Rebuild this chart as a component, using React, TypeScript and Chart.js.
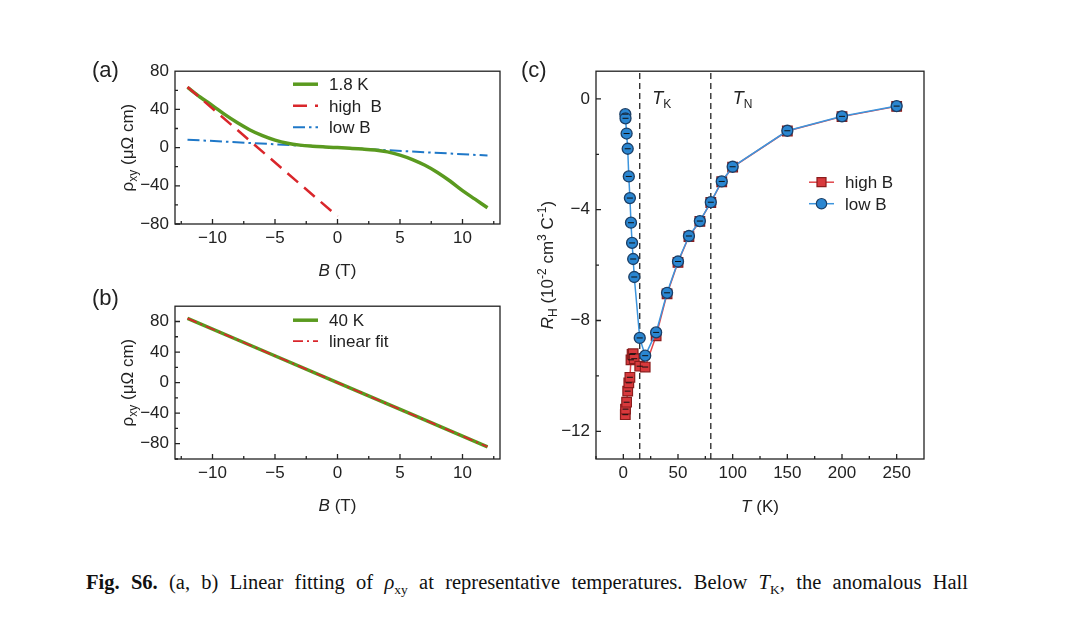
import { useEffect, useRef } from "react";
import { Chart, registerables } from "chart.js";

Chart.register(...registerables);

const FONT = '"Liberation Sans", Arial, Helvetica, sans-serif';
const INK = "#222222";
const FS = 17;

// (a) rho_xy at 1.8 K with the two linear fits
const fieldA = [-12, -11, -10, -9, -8, -7, -6, -5, -4, -3, -2, -1, 0, 1, 2, 3, 4, 5, 6, 7, 8, 9, 10, 11, 12];
const rho18K = [63, 53, 44, 34.5, 26, 18.5, 12.5, 7.8, 4.5, 2.6, 1.5, 0.7, 0, -0.7, -1.5, -2.6, -4.5, -7.8, -12.5, -18.5, -26, -35, -45, -54, -63];
const highFitB = [-12, 0];
const highFitRho = [63.5, -72];
const lowFitB = [-12, 12];
const lowFitRho = [8.3, -8.3];

// (b) rho_xy at 40 K
const fieldB = [-12, -6, 0, 6, 12];
const rho40K = [84, 42, 0, -42, -84];
const linFitB = [-12, 12];
const linFitRho = [84, -84];

// (c) Hall coefficient vs temperature
const tempK = [1.8, 2, 3, 4, 5, 6, 7, 8, 9, 10, 15, 20, 30, 40, 50, 60, 70, 80, 90, 100, 150, 200, 250];
const rhHighB = [-11.4, -11.2, -10.95, -10.55, -10.25, -10.05, -9.42, -9.22, -9.2, -9.38, -9.65, -9.68, -8.55, -7.04, -5.9, -4.97, -4.42, -3.74, -2.99, -2.46, -1.16, -0.64, -0.27];
const rhLowB = [-0.55, -0.7, -1.25, -1.8, -2.8, -3.58, -4.47, -5.2, -5.78, -6.43, -8.63, -9.27, -8.43, -7.0, -5.87, -4.95, -4.41, -3.73, -2.98, -2.45, -1.15, -0.63, -0.26];
const T_KONDO = 15;
const T_NEEL = 80;

// tick labels
const ticksField = [-10, -5, 0, 5, 10];
const ticksRho = [-80, -40, 0, 40, 80];
const ticksTemp = [0, 50, 100, 150, 200, 250];
const ticksRH = [-12, -8, -4, 0];

const pts = (xs: number[], ys: number[]) => xs.map((x, i) => ({ x, y: ys[i] }));

type Run = { t: string; s?: number; dy?: number; it?: boolean };

function drawRuns(ctx: CanvasRenderingContext2D, runs: Run[], x: number, y: number, angle: number, align: "left" | "center") {
  ctx.save();
  ctx.translate(x, y);
  ctx.rotate(angle);
  ctx.textBaseline = "alphabetic";
  ctx.textAlign = "left";
  ctx.fillStyle = INK;
  const fonts = runs.map((r) => `${r.it ? "italic " : ""}${r.s ?? FS}px ${FONT}`);
  const widths = runs.map((r, i) => {
    ctx.font = fonts[i];
    return ctx.measureText(r.t).width;
  });
  const total = widths.reduce((p, c) => p + c, 0);
  let cx = align === "center" ? -total / 2 : 0;
  runs.forEach((r, i) => {
    ctx.font = fonts[i];
    ctx.fillText(r.t, cx, r.dy ?? 0);
    cx += widths[i];
  });
  ctx.restore();
}

type Decor = {
  minorX: number;
  minorY: number;
  yTitle: Run[];
  yTitleDx: number;
  xTitle: Run[];
  xTitleDy: number;
  legend: { dx: number; dy: number; rowH: number; items: { ds: number; runs: Run[]; marker?: "circle" | "rect" }[] };
  notes?: { x: number; y: number; runs: Run[] }[];
};

function makeDecor(cfg: Decor) {
  return {
    id: "decor",
    afterDatasetsDraw(chart: any) {
      const { ctx, chartArea: a, scales } = chart;
      const sx = scales.x;
      const sy = scales.y;
      ctx.save();
      ctx.strokeStyle = INK;
      ctx.lineWidth = 1.3;
      ctx.setLineDash([]);
      ctx.strokeRect(a.left, a.top, a.right - a.left, a.bottom - a.top);

      const majorX = sx.ticks.map((t: any) => t.value);
      const majorY = sy.ticks.map((t: any) => t.value);
      const isMajor = (v: number, list: number[]) => list.some((m) => Math.abs(m - v) < 1e-6);
      ctx.beginPath();
      for (let v = Math.ceil(sx.min / cfg.minorX) * cfg.minorX; v < sx.max; v += cfg.minorX) {
        const px = sx.getPixelForValue(v);
        const len = isMajor(v, majorX) ? 5 : 3;
        ctx.moveTo(px, a.bottom);
        ctx.lineTo(px, a.bottom - len);
      }
      for (let v = Math.ceil(sy.min / cfg.minorY) * cfg.minorY; v < sy.max; v += cfg.minorY) {
        const py = sy.getPixelForValue(v);
        const len = isMajor(v, majorY) ? 5 : 3;
        ctx.moveTo(a.left, py);
        ctx.lineTo(a.left + len, py);
      }
      ctx.stroke();

      drawRuns(ctx, cfg.yTitle, a.left + cfg.yTitleDx, (a.top + a.bottom) / 2, -Math.PI / 2, "center");
      drawRuns(ctx, cfg.xTitle, (a.left + a.right) / 2, a.bottom + cfg.xTitleDy, 0, "center");

      const lg = cfg.legend;
      lg.items.forEach((item, i) => {
        const ds = chart.data.datasets[item.ds];
        const y0 = a.top + lg.dy + lg.rowH * i;
        const x0 = a.left + lg.dx;
        ctx.save();
        ctx.strokeStyle = ds.borderColor;
        ctx.lineWidth = ds.borderWidth;
        ctx.setLineDash(ds.borderDash ?? []);
        ctx.beginPath();
        ctx.moveTo(x0, y0);
        ctx.lineTo(x0 + 25, y0);
        ctx.stroke();
        ctx.setLineDash([]);
        if (item.marker) {
          ctx.fillStyle = ds.backgroundColor;
          ctx.strokeStyle = ds.pointBorderColor;
          ctx.lineWidth = 1.2;
          ctx.beginPath();
          if (item.marker === "circle") ctx.arc(x0 + 12.5, y0, 5.2, 0, Math.PI * 2);
          else ctx.rect(x0 + 8, y0 - 4.5, 9, 9);
          ctx.fill();
          ctx.stroke();
        }
        ctx.restore();
        drawRuns(ctx, item.runs, x0 + 36, y0 + 6, 0, "left");
      });

      (cfg.notes ?? []).forEach((n) => {
        drawRuns(ctx, n.runs, sx.getPixelForValue(n.x), sy.getPixelForValue(n.y), 0, "left");
      });
      ctx.restore();
    },
  };
}

const minus = (v: number | string) => String(v).replace("-", "\u2212");

function axis(min: number, max: number, ticks: number[], pad: number, fit: number, horiz: boolean) {
  return {
    type: "linear",
    min,
    max,
    grid: { display: false, drawTicks: false },
    border: { display: false },
    afterBuildTicks: (s: any) => {
      s.ticks = ticks.map((value) => ({ value }));
    },
    ticks: {
      padding: pad,
      autoSkip: false,
      maxRotation: 0,
      color: INK,
      font: { family: FONT, size: FS },
      callback: (v: number) => minus(v),
    },
    afterFit: (s: any) => {
      if (horiz) s.height = fit;
      else s.width = fit;
    },
  };
}

function baseOptions(xAxis: any, yAxis: any, pad: any) {
  return {
    responsive: false,
    animation: false,
    layout: { padding: pad },
    plugins: { legend: { display: false }, tooltip: { enabled: false } },
    scales: { x: xAxis, y: yAxis },
  };
}

const rhoTitle: Run[] = [{ t: "\u03C1" }, { t: "xy", s: 12, dy: 4 }, { t: " (\u03BC\u03A9 cm)" }];
const bTitle: Run[] = [{ t: "B", it: true }, { t: " (T)" }];

function configA() {
  return {
    type: "scatter",
    data: {
      datasets: [
        { data: pts(highFitB, highFitRho), showLine: true, borderColor: "#d9262b", borderWidth: 2.5, borderDash: [14, 8], pointRadius: 0 },
        { data: pts(fieldA, rho18K), showLine: true, borderColor: "#5a9a1f", borderWidth: 3.5, pointRadius: 0, cubicInterpolationMode: "monotone" },
        { data: pts(lowFitB, lowFitRho), showLine: true, borderColor: "#1f78c8", borderWidth: 2, borderDash: [12, 4, 2.5, 4], pointRadius: 0 },
      ],
    },
    options: baseOptions(axis(-13, 13, ticksField, 4, 61, true), axis(-80, 80, ticksRho, 6, 95, false), { top: 16, right: 10, left: 0, bottom: 0 }),
    plugins: [
      makeDecor({
        minorX: 2.5,
        minorY: 20,
        yTitle: rhoTitle,
        yTitleDx: -42,
        xTitle: bTitle,
        xTitleDy: 52,
        legend: {
          dx: 118,
          dy: 13,
          rowH: 21.5,
          items: [
            { ds: 1, runs: [{ t: "1.8 K" }] },
            { ds: 0, runs: [{ t: "high  B" }] },
            { ds: 2, runs: [{ t: "low B" }] },
          ],
        },
      }),
    ],
  };
}

function configB() {
  return {
    type: "scatter",
    data: {
      datasets: [
        { data: pts(linFitB, linFitRho), showLine: true, borderColor: "#d9262b", borderWidth: 1.8, borderDash: [10, 4, 2, 4], pointRadius: 0 },
        { data: pts(fieldB, rho40K), showLine: true, borderColor: "#5a9a1f", borderWidth: 3.5, pointRadius: 0 },
      ],
    },
    options: baseOptions(axis(-13, 13, ticksField, 4, 56, true), axis(-100, 100, ticksRho, 6, 95, false), { top: 15, right: 10, left: 0, bottom: 0 }),
    plugins: [
      makeDecor({
        minorX: 2.5,
        minorY: 20,
        yTitle: rhoTitle,
        yTitleDx: -42,
        xTitle: bTitle,
        xTitleDy: 52,
        legend: {
          dx: 118,
          dy: 14,
          rowH: 21,
          items: [
            { ds: 1, runs: [{ t: "40 K" }] },
            { ds: 0, runs: [{ t: "linear fit" }] },
          ],
        },
      }),
    ],
  };
}

function configC() {
  const vline = (t: number) => ({
    data: [
      { x: t, y: -13 },
      { x: t, y: 1 },
    ],
    showLine: true,
    borderColor: INK,
    borderWidth: 1.3,
    borderDash: [6, 4],
    pointRadius: 0,
  });
  const errBar = (ys: number[]) => ({
    data: pts(tempK, ys),
    showLine: false,
    pointStyle: "line",
    pointRadius: 3,
    borderColor: "#111111",
    borderWidth: 1,
  });
  return {
    type: "scatter",
    data: {
      datasets: [
        errBar(rhLowB),
        {
          data: pts(tempK, rhLowB),
          showLine: true,
          borderColor: "#3d95dd",
          borderWidth: 1.5,
          backgroundColor: "#2a86d1",
          pointBackgroundColor: "#2a86d1",
          pointBorderColor: "#1c3f66",
          pointBorderWidth: 1.3,
          pointStyle: "circle",
          pointRadius: 5.5,
        },
        errBar(rhHighB),
        {
          data: pts(tempK, rhHighB),
          showLine: true,
          borderColor: "#e0454a",
          borderWidth: 1.5,
          backgroundColor: "#d8393c",
          pointBackgroundColor: "#d8393c",
          pointBorderColor: "#8a1c1c",
          pointBorderWidth: 1.2,
          pointStyle: "rect",
          pointRadius: 6.8,
        },
        vline(T_KONDO),
        vline(T_NEEL),
      ],
    },
    options: baseOptions(axis(-25, 275, ticksTemp, 4, 56, true), axis(-13, 1, ticksRH, 6, 76, false), { top: 16, right: 16, left: 0, bottom: 0 }),
    plugins: [
      makeDecor({
        minorX: 25,
        minorY: 2,
        yTitle: [
          { t: "R", it: true },
          { t: "H", s: 12, dy: 4 },
          { t: " (10" },
          { t: "-2", s: 12, dy: -7 },
          { t: " cm" },
          { t: "3", s: 12, dy: -7 },
          { t: " C" },
          { t: "-1", s: 12, dy: -7 },
          { t: ")" },
        ],
        yTitleDx: -43,
        xTitle: [{ t: "T", it: true }, { t: " (K)" }],
        xTitleDy: 53,
        legend: {
          dx: 213,
          dy: 111,
          rowH: 21.5,
          items: [
            { ds: 3, runs: [{ t: "high B" }], marker: "rect" },
            { ds: 1, runs: [{ t: "low B" }], marker: "circle" },
          ],
        },
        notes: [
          { x: 26.5, y: -0.18, runs: [{ t: "T", it: true, s: 18 }, { t: "K", s: 12, dy: 4 }] },
          { x: 100, y: -0.18, runs: [{ t: "T", it: true, s: 18 }, { t: "N", s: 12, dy: 4 }] },
        ],
      }),
    ],
  };
}

function Panel({ left, top, width, height, make }: { left: number; top: number; width: number; height: number; make: () => any }) {
  const ref = useRef<HTMLCanvasElement>(null);
  useEffect(() => {
    if (!ref.current) return;
    const chart = new Chart(ref.current, make());
    return () => chart.destroy();
  }, [make]);
  return <canvas ref={ref} width={width} height={height} style={{ position: "absolute", left, top, width, height }} />;
}

const tag = (left: number, top: number) => ({
  position: "absolute" as const,
  left,
  top,
  font: `22px ${FONT}`,
  color: INK,
  lineHeight: "26px",
});

export default function App() {
  return (
    <div style={{ position: "absolute", left: 0, top: 0, width: 1080, height: 622, background: "#fff", overflow: "hidden" }}>
      <Panel left={80} top={55} width={430} height={230} make={configA} />
      <Panel left={80} top={290} width={430} height={225} make={configB} />
      <Panel left={520} top={55} width={420} height={460} make={configC} />
      <div style={tag(92, 57)}>(a)</div>
      <div style={tag(92, 285)}>(b)</div>
      <div style={tag(521, 57)}>(c)</div>
      <div
        style={{
          position: "absolute",
          left: 86,
          top: 571,
          width: 882,
          font: '20.5px "Liberation Serif", "Times New Roman", serif',
          color: "#111",
          textAlign: "justify",
          textAlignLast: "justify",
          whiteSpace: "nowrap",
        }}
      >
        <b>Fig. S6.</b> (a, b) Linear fitting of <i>ρ</i>
        <sub style={{ fontSize: 13.5 }}>xy</sub> at representative temperatures. Below <i>T</i>
        <sub style={{ fontSize: 13.5 }}>K</sub>, the anomalous Hall
      </div>
    </div>
  );
}
